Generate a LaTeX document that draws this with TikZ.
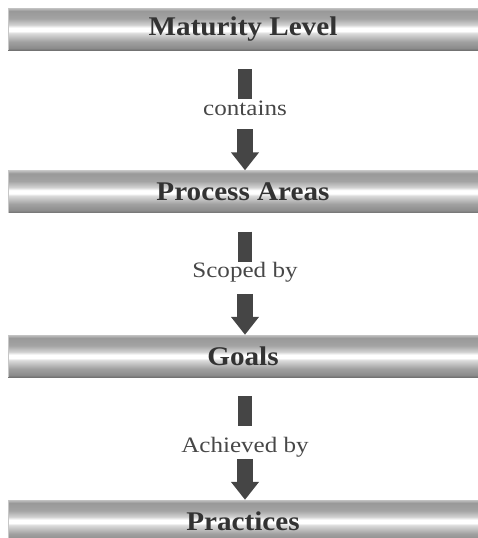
\documentclass[tikz,border=0pt]{standalone}
\usepackage{fontspec}
\usepackage{graphicx}
\setmainfont{Liberation Serif}
\usetikzlibrary{arrows.meta}
\pgfdeclareverticalshading{metal}{100bp}{color(0bp)=(black!55); color(25bp)=(black!55); color(27.5bp)=(black!45); color(35bp)=(black!37); color(45bp)=(black!14); color(47.5bp)=(white); color(51.5bp)=(white); color(55bp)=(black!18); color(62.5bp)=(black!36); color(71.5bp)=(black!40); color(75bp)=(black!24); color(100bp)=(black!24)}
\newcommand\mywidetitle[1]{\scalebox{1.08}[1]{#1}}
\newcommand\mywidelab[1]{\scalebox{1.14}[1]{#1}}
\tikzset{
  bar/.style={shading=metal, minimum width=470pt, minimum height=42pt, inner sep=0pt,
    font=\fontsize{27}{30}\selectfont\bfseries, text=black!80},
  lab/.style={font=\fontsize{22}{25}\selectfont, text=black!72, inner sep=0pt},
  stemup/.style={draw=black!73, line width=14pt},
  stemdown/.style={draw=black!73, fill=black!73, line width=16pt, -{Triangle[width=27pt,length=18pt]}}
}
\begin{document}
\begin{tikzpicture}[x=1pt,y=-1pt]
\useasboundingbox (0,0) rectangle (478,538);
\node[bar] (b1) at (243,29) {\mywidetitle{Maturity Level}};
\node[bar] (b2) at (243,191.5) {\mywidetitle{Process Areas}};
\node[bar] (b3) at (243,356) {\mywidetitle{Goals}};
\node[bar] (b4) at (243,521) {\mywidetitle{Practices}};
\node[lab] (l1) at (245,108) {\mywidelab{contains}};
\node[lab] (l2) at (245,272) {\mywidelab{Scoped by}};
\node[lab] (l3) at (245,447) {\mywidelab{Achieved by}};
\foreach \b/\n in {b1/b2,b2/b3,b3/b4}{
  \draw[stemup] ([xshift=2pt,yshift=-19pt]\b.south) -- ++(0,30);
  \draw[stemdown] ([xshift=2pt,yshift=41pt]\n.north) -- ([xshift=2pt]\n.north);
}
\foreach \b in {b1,b2,b3,b4}{
  \draw[black!22, line width=1.2pt] ([xshift=1pt]\b.north west) -- ([xshift=1pt]\b.south west);
}
\end{tikzpicture}
\end{document}
